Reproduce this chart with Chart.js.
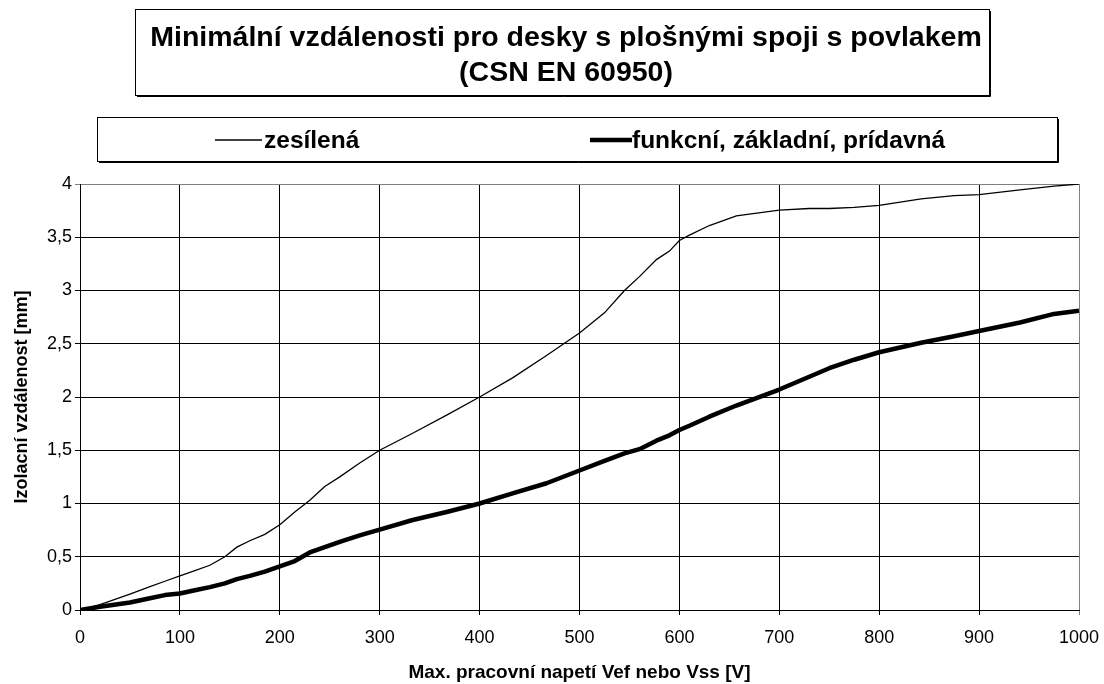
<!DOCTYPE html>
<html>
<head>
<meta charset="utf-8">
<script src="https://cdn.jsdelivr.net/npm/chart.js@4/dist/chart.umd.min.js"></script>
<style>
  html, body { margin: 0; padding: 0; background: #fff; }
  #wrap { width: 1104px; height: 684px; }
</style>
</head>
<body>
<div id="wrap"><canvas id="graf" width="1104" height="684"></canvas></div>
<script>
// napeti [V]
var napeti = [0, 20, 50, 70, 85, 100, 115, 130, 145, 157, 170, 185, 200, 215, 230, 245, 260, 280,
  300, 333, 367, 400, 433, 467, 500, 525, 545, 560, 577, 590, 600, 610, 630, 657, 700, 730,
  750, 775, 800, 842, 875, 900, 941, 975, 1000];

// zesilena izolace [mm]
var zesilena = [0, 0.05, 0.15, 0.22, 0.27, 0.32, 0.37, 0.42, 0.50, 0.59, 0.65, 0.71, 0.80, 0.92,
  1.03, 1.16, 1.25, 1.38, 1.50, 1.66, 1.83, 2.00, 2.18, 2.39, 2.60, 2.79, 3.00, 3.13, 3.29,
  3.37, 3.47, 3.52, 3.61, 3.70, 3.755, 3.77, 3.77, 3.78, 3.80, 3.86, 3.89, 3.90, 3.945, 3.98, 4.00];

// funkcni, zakladni, pridavna izolace [mm]
var funkcni = [0, 0.03, 0.07, 0.11, 0.14, 0.155, 0.185, 0.215, 0.25, 0.29, 0.32, 0.36, 0.41, 0.46,
  0.54, 0.59, 0.64, 0.70, 0.755, 0.845, 0.92, 1.00, 1.095, 1.19, 1.31, 1.40, 1.47, 1.51, 1.59,
  1.64, 1.69, 1.73, 1.815, 1.92, 2.07, 2.19, 2.27, 2.35, 2.42, 2.51, 2.57, 2.62, 2.70, 2.78, 2.81];

var nadpis = ["Minimální vzdálenosti pro desky s plošnými spoji s povlakem", "(CSN EN 60950)"];
var popisX = "Max. pracovní napetí Vef nebo Vss [V]";
var popisY = "Izolacní vzdálenost [mm]";

var pismo = "Arial, 'Liberation Sans', sans-serif";

function body(hodnoty) {
  return napeti.map(function(v, i) { return { x: v, y: hodnoty[i] }; });
}

// ramecek s posunutym stinem jako v Excelu
function ramecek(ctx, x, y, w, h) {
  ctx.save();
  ctx.strokeStyle = '#000';
  ctx.lineWidth = 1;
  ctx.strokeRect(x + 0.5, y + 0.5, w, h);
  ctx.beginPath();
  ctx.moveTo(x + 2, y + h + 1.5);
  ctx.lineTo(x + w + 1.5, y + h + 1.5);
  ctx.lineTo(x + w + 1.5, y + 2);
  ctx.stroke();
  ctx.restore();
}

// nadpis a legenda v ramecku
var nadpisLegenda = {
  id: 'nadpisLegenda',
  afterDraw: function(chart) {
    var ctx = chart.ctx;
    var ds = chart.data.datasets;

    ramecek(ctx, 135, 9, 854, 86);
    ctx.save();
    ctx.fillStyle = '#000';
    ctx.textAlign = 'center';
    ctx.textBaseline = 'middle';
    ctx.font = "bold 28.5px " + pismo;
    ctx.fillText(nadpis[0], 566, 38);
    ctx.fillText(nadpis[1], 566, 73);
    ctx.restore();

    ramecek(ctx, 97, 117, 960, 44);
    var vzorky = [
      { x1: 215, x2: 262, text: 264 },
      { x1: 590, x2: 632, text: 632 }
    ];
    ctx.save();
    ctx.font = "bold 24.5px " + pismo;
    ctx.textBaseline = 'middle';
    ctx.textAlign = 'left';
    vzorky.forEach(function(v, i) {
      ctx.beginPath();
      ctx.strokeStyle = ds[i].borderColor;
      ctx.lineWidth = ds[i].borderWidth;
      ctx.moveTo(v.x1, 140);
      ctx.lineTo(v.x2, 140);
      ctx.stroke();
      ctx.fillStyle = '#000';
      ctx.fillText(ds[i].label, v.text, 141);
    });
    ctx.restore();
  }
};

var graf = new Chart(document.getElementById('graf'), {
  type: 'line',
  data: {
    datasets: [{
      label: 'zesílená',
      data: body(zesilena),
      borderColor: '#000',
      borderWidth: 1.3,
      pointRadius: 0,
      tension: 0,
      fill: false
    }, {
      label: 'funkcní, základní, prídavná',
      data: body(funkcni),
      borderColor: '#000',
      borderWidth: 4.5,
      borderJoinStyle: 'round',
      pointRadius: 0,
      tension: 0,
      fill: false
    }]
  },
  options: {
    responsive: false,
    animation: false,
    layout: { padding: { top: 184, right: 25, left: 0, bottom: 0 } },
    plugins: {
      legend: { display: false },
      title: { display: false },
      tooltip: { enabled: false }
    },
    scales: {
      x: {
        type: 'linear',
        min: 0,
        max: 1000,
        afterFit: function(scale) {
          scale.height = 74;
          scale.paddingLeft = 0;
          scale.paddingRight = 0;
        },
        ticks: {
          stepSize: 100,
          color: '#000',
          padding: 12,
          font: { family: pismo, size: 18 },
          callback: function(v) { return String(v); }
        },
        grid: {
          color: function(c) { return c.tick && c.tick.value === 1000 ? '#808080' : '#000'; },
          lineWidth: 1,
          tickLength: 5
        },
        border: { color: '#000', width: 1 },
        title: {
          display: true,
          text: popisX,
          color: '#000',
          padding: { top: 0, bottom: 0 },
          font: { family: pismo, size: 19, weight: 'bold' }
        }
      },
      y: {
        min: 0,
        max: 4,
        afterFit: function(scale) { scale.width = 80; },
        ticks: {
          stepSize: 0.5,
          color: '#000',
          padding: 3,
          font: { family: pismo, size: 18 },
          callback: function(v) { return String(v).replace('.', ','); }
        },
        grid: {
          color: function(c) { return c.tick && c.tick.value === 4 ? '#808080' : '#000'; },
          lineWidth: 1,
          tickLength: 5
        },
        border: { color: '#000', width: 1 },
        title: {
          display: true,
          text: popisY,
          color: '#000',
          padding: { top: 11, bottom: 0 },
          font: { family: pismo, size: 18, weight: 'bold' }
        }
      }
    }
  },
  plugins: [nadpisLegenda]
});
</script>
</body>
</html>
